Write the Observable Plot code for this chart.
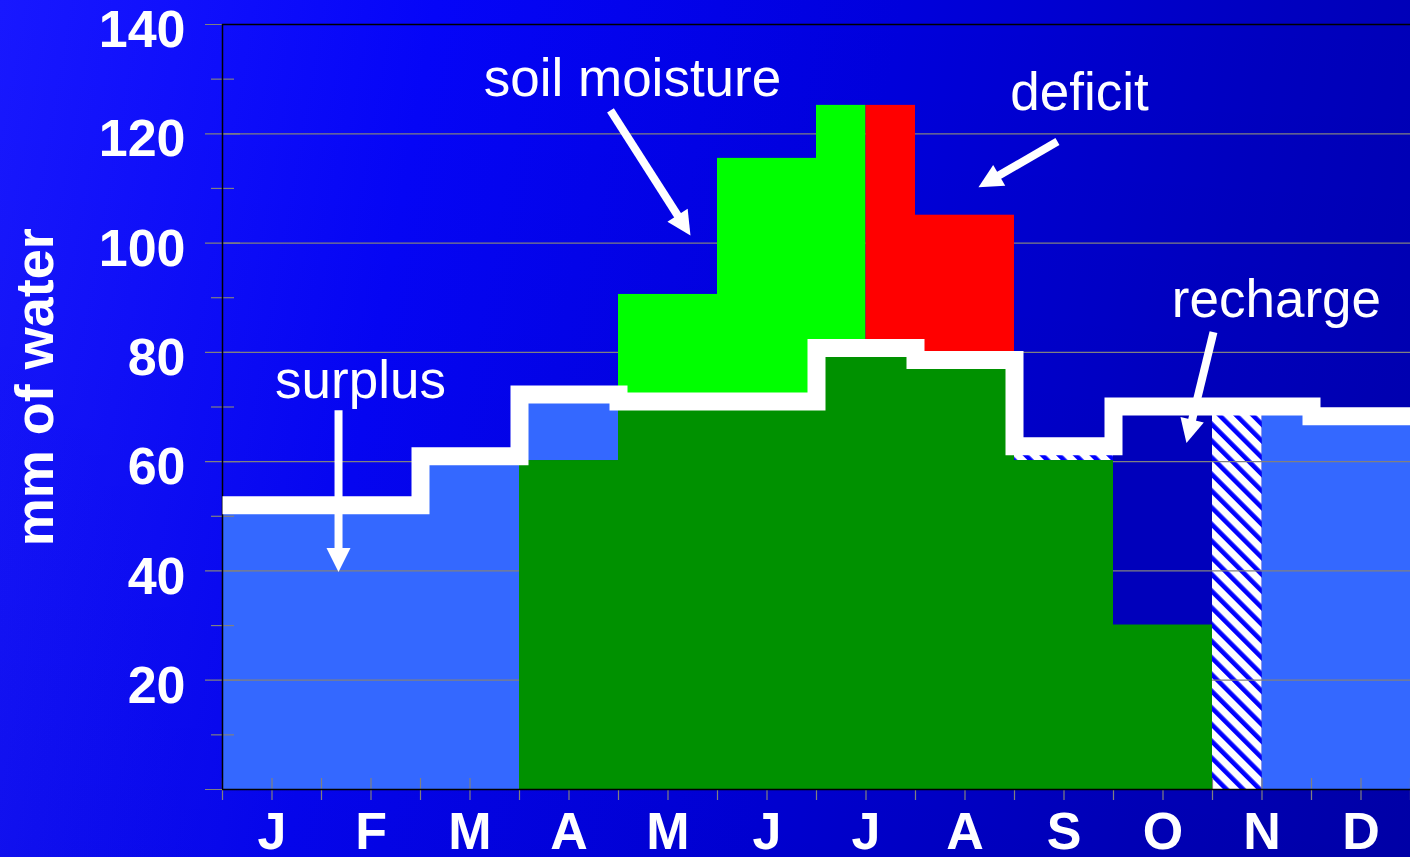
<!DOCTYPE html>
<html>
<head>
<meta charset="utf-8">
<script src="https://cdn.jsdelivr.net/npm/d3@7"></script>
<script src="https://cdn.jsdelivr.net/npm/@observablehq/plot@0.6"></script>
<style>
  html, body { margin: 0; padding: 0; overflow: hidden; width: 1410px; height: 857px; }
  #chart svg { display: block; }
</style>
</head>
<body>
<div id="chart"></div>
<script>
// ---------- data ----------
const months = ["J", "F", "M", "A", "M", "J", "J", "A", "S", "O", "N", "D"];
// monthly precipitation (white step line), mm
const precipitation = [52, 52, 61, 72.3, 71, 71, 80.8, 78.6, 62.8, 70.1, 70.1, 68.3];
// blocks: [startMonth, endMonth, bottom mm, top mm]
const surplus = [[0, 2, 0, 52], [2, 3, 0, 61], [3, 4, 60.2, 72.3], [10.5, 11, 0, 70.1], [11, 12, 0, 68.3]];
const evapotranspiration = [[3, 4, 0, 60.2], [4, 6, 0, 71], [6, 7, 0, 80.8], [7, 8, 0, 78.6], [8, 9, 0, 60.2], [9, 10, 0, 30.1]];
const soilMoisture = [[4, 5, 71, 90.6], [5, 6, 71, 115.5], [6, 6.5, 80.8, 125.2]];
const deficit = [[6.5, 7, 80.8, 125.2], [7, 8, 78.6, 105.1]];
const recharge = [[9, 10, 30.1, 70.1]];
const hatched = [[8, 9, 60.2, 62.8], [10, 10.5, 0, 70.1]];
const yTickLabels = [20, 40, 60, 80, 100, 120, 140];
const yMajorTicks = [0, 20, 40, 60, 80, 100, 120, 140];
const yMinorTicks = [10, 30, 50, 70, 90, 110, 130];
const gridLines = [20, 40, 60, 80, 100, 120];
const xTicks = d3.range(0, 12.01, 0.5);
const annotations = [
  {text: "soil moisture", x: 4.141, y: 127.0},
  {text: "deficit", x: 8.657, y: 124.3},
  {text: "recharge", x: 10.646, y: 86.4},
  {text: "surplus", x: 1.394, y: 71.6}
];
const arrows = [
  {x1: 1.172, y1: 69.4, x2: 1.172, y2: 39.8},
  {x1: 3.919, y1: 124.3, x2: 4.727, y2: 101.4},
  {x1: 8.434, y1: 118.6, x2: 7.636, y2: 110.2},
  {x1: 10.01, y1: 83.7, x2: 9.737, y2: 63.4}
];

// ---------- layout ----------
const W = 1410, H = 857, ML = 222, MR = 0, MT = 24, MB = 68;
const KX = (W - ML - MR) / 12;          // px per month
const KY = (H - MT - MB) / 140;         // px per mm
const HEAD = 24;                         // arrowhead length px

const linePts = precipitation.map((v, i) => ({x: i, y: v})).concat([{x: 12, y: precipitation[11]}]);

const arrowGeo = arrows.map(a => {
  const dxp = (a.x2 - a.x1) * KX, dyp = -(a.y2 - a.y1) * KY;
  const len = Math.hypot(dxp, dyp);
  const ux = dxp / len, uy = dyp / len;
  const back = HEAD - 3;
  return {
    ...a,
    bx: a.x2 - ux * back / KX,
    by: a.y2 + uy * back / KY,
    angle: Math.atan2(dxp, -dyp) * 180 / Math.PI
  };
});

const headSymbol = {
  draw(ctx, size) {
    const r = Math.sqrt(size / Math.PI);
    ctx.moveTo(0, 0);
    ctx.lineTo(r, 2 * r);
    ctx.lineTo(-r, 2 * r);
    ctx.closePath();
  }
};

const block = (data, fill) => Plot.rect(data, {
  x1: d => d[0], x2: d => d[1], y1: d => d[2], y2: d => d[3], fill
});

const font = "'Liberation Sans', Arial, Helvetica, sans-serif";

const chart = Plot.plot({
  width: W, height: H,
  marginLeft: ML, marginRight: MR, marginTop: MT, marginBottom: MB,
  x: {domain: [0, 12], axis: null},
  y: {domain: [0, 140], axis: null},
  style: {
    background: "linear-gradient(180deg, rgba(0,0,0,0) 0%, rgba(0,0,0,0.06) 100%), linear-gradient(100deg, #1818ff 0%, #0505f8 28%, #0000dc 58%, #0000c0 82%, #0000b0 100%)",
    fontFamily: font,
    color: "white",
    overflow: "visible"
  },
  marks: [
    block(surplus, "#3468ff"),
    block(hatched, "url(#hatch)"),
    block(recharge, "#0000bb"),
    Plot.ruleY(gridLines, {stroke: "#808080", strokeWidth: 1.2}),
    Plot.ruleX(xTicks, {y1: -11 / KY, y2: 11 / KY, stroke: "#808080", strokeWidth: 1.2}),
    block(evapotranspiration, "#009100"),
    block(soilMoisture, "#00ff00"),
    block(deficit, "#ff0000"),
    // y ticks crossing the axis
    Plot.ruleY(yMajorTicks, {x1: -17 / KX, x2: 18 / KX, stroke: "#808080", strokeWidth: 1.2}),
    Plot.ruleY(yMinorTicks, {x1: -11 / KX, x2: 12 / KX, stroke: "#808080", strokeWidth: 1.2}),
    // frame lines
    Plot.ruleY([0, 140], {stroke: "black", strokeWidth: 1.5}),
    Plot.ruleX([0], {y1: 0, y2: 140, stroke: "black", strokeWidth: 1.5}),
    // precipitation step line
    Plot.line(linePts, {x: "x", y: "y", curve: "step-after", stroke: "white", strokeWidth: 18,
      strokeLinejoin: "miter", strokeMiterlimit: 10, strokeLinecap: "butt"}),
    // tick labels
    Plot.text(yTickLabels, {x: 0, y: d => d, text: d => String(d), textAnchor: "end", dx: -37, dy: 6,
      fontSize: 52, fontWeight: "bold", fill: "white"}),
    Plot.text(months, {x: (d, i) => i + 0.5, y: 0, text: d => d, lineAnchor: "top", dy: 23,
      fontSize: 52, fontWeight: "bold", fill: "white"}),
    Plot.text(["mm of water"], {x: -170 / KX, y: 73.6, text: d => d, rotate: -90, lineAnchor: "bottom",
      fontSize: 54, fontWeight: "bold", fill: "white"}),
    // annotations
    Plot.text(annotations, {x: "x", y: "y", text: "text", lineAnchor: "bottom", fontSize: 53, fill: "white"}),
    Plot.link(arrowGeo, {x1: "x1", y1: "y1", x2: "bx", y2: "by", stroke: "white", strokeWidth: 8, strokeLinecap: "butt"}),
    Plot.dot(arrowGeo, {x: "x2", y: "y2", r: HEAD / 2, symbol: headSymbol, rotate: "angle", fill: "white", stroke: "none"})
  ]
});

// hatch pattern definition
const ns = "http://www.w3.org/2000/svg";
const defs = document.createElementNS(ns, "defs");
const pat = document.createElementNS(ns, "pattern");
pat.setAttribute("id", "hatch");
pat.setAttribute("patternUnits", "userSpaceOnUse");
pat.setAttribute("width", "11.8");
pat.setAttribute("height", "11.8");
pat.setAttribute("patternTransform", "rotate(-45)");
const bg = document.createElementNS(ns, "rect");
bg.setAttribute("width", "11.8"); bg.setAttribute("height", "11.8"); bg.setAttribute("fill", "white");
const stripe = document.createElementNS(ns, "rect");
stripe.setAttribute("width", "4.6"); stripe.setAttribute("height", "11.8"); stripe.setAttribute("fill", "#0000ff");
pat.appendChild(bg); pat.appendChild(stripe);
defs.appendChild(pat);
chart.insertBefore(defs, chart.firstChild);

document.getElementById("chart").appendChild(chart);
</script>
</body>
</html>
